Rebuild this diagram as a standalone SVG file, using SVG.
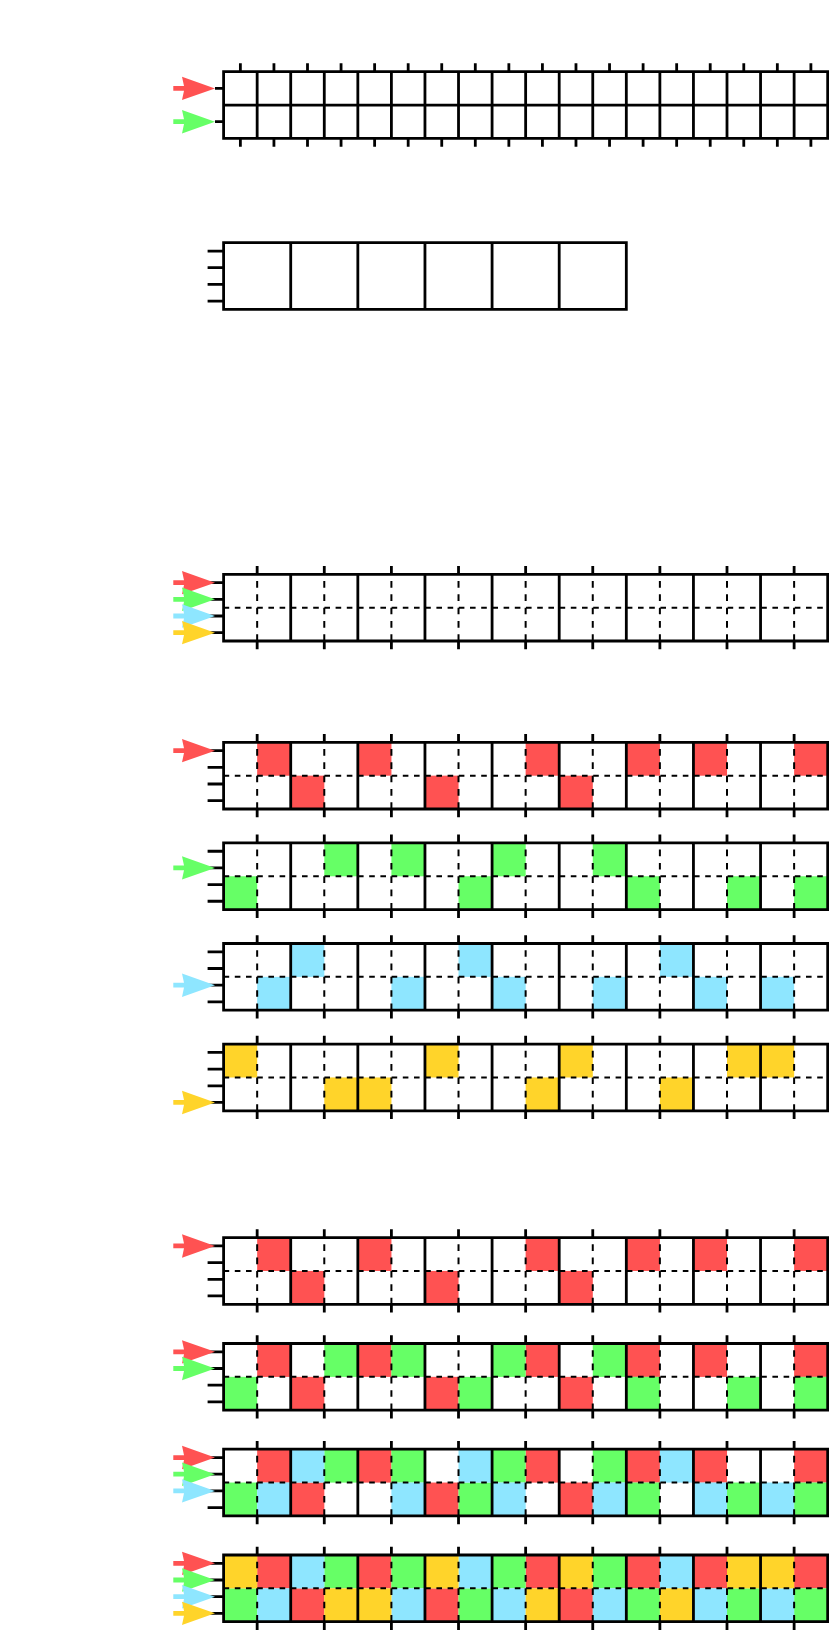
<svg xmlns="http://www.w3.org/2000/svg" xmlns:xlink="http://www.w3.org/1999/xlink" width="829" height="1630" viewBox="0 0 829 1630">
<style>
.ln{fill:none;stroke:#000;stroke-width:2.8}
.dh{fill:none;stroke:#000;stroke-width:2;stroke-dasharray:5.6 5.6}
.dv{fill:none;stroke:#000;stroke-width:2;stroke-dasharray:6.67 6.67;stroke-dashoffset:6.67}
.r{fill:#FF5252}
.g{fill:#66FF66}
.b{fill:#8EE6FF}
.y{fill:#FFD42A}
</style>
<defs>
<path id="arr" d="M-41.7,-2.4H-31L-33,-11.7L0,0L-33,11.7L-31,2.4H-41.7Z"/>
<g id="dgrid">
<path class="dh" d="M0,33.35H604.08"/>
<path class="dv" d="M33.56,0V66.7M100.68,0V66.7M167.8,0V66.7M234.92,0V66.7M302.04,0V66.7M369.16,0V66.7M436.28,0V66.7M503.4,0V66.7M570.52,0V66.7"/>
<path class="ln" d="M0,0H604.08V66.7H0ZM67.12,0V66.7M134.24,0V66.7M201.36,0V66.7M268.48,0V66.7M335.6,0V66.7M402.72,0V66.7M469.84,0V66.7M536.96,0V66.7"/>
<path class="ln" d="M33.56,-8.3V0M100.68,-8.3V0M167.8,-8.3V0M234.92,-8.3V0M302.04,-8.3V0M369.16,-8.3V0M436.28,-8.3V0M503.4,-8.3V0M570.52,-8.3V0M33.56,66.7V75M100.68,66.7V75M167.8,66.7V75M234.92,66.7V75M302.04,66.7V75M369.16,66.7V75M436.28,66.7V75M503.4,66.7V75M570.52,66.7V75"/>
<path class="ln" d="M-16,8.35H0M-16,25H0M-16,41.7H0M-16,58.35H0"/>
</g>
<g id="pR" class="r">
<rect x="33.56" y="0" width="33.6" height="33.4"/><rect x="134.24" y="0" width="33.6" height="33.4"/><rect x="302.04" y="0" width="33.6" height="33.4"/><rect x="402.72" y="0" width="33.6" height="33.4"/><rect x="469.84" y="0" width="33.6" height="33.4"/><rect x="570.52" y="0" width="33.6" height="33.4"/>
<rect x="67.12" y="33.35" width="33.6" height="33.35"/><rect x="201.36" y="33.35" width="33.6" height="33.35"/><rect x="335.6" y="33.35" width="33.6" height="33.35"/>
</g>
<g id="pG" class="g">
<rect x="100.68" y="0" width="33.6" height="33.4"/><rect x="167.8" y="0" width="33.6" height="33.4"/><rect x="268.48" y="0" width="33.6" height="33.4"/><rect x="369.16" y="0" width="33.6" height="33.4"/>
<rect x="0" y="33.35" width="33.6" height="33.35"/><rect x="234.92" y="33.35" width="33.6" height="33.35"/><rect x="402.72" y="33.35" width="33.6" height="33.35"/><rect x="503.4" y="33.35" width="33.6" height="33.35"/><rect x="570.52" y="33.35" width="33.6" height="33.35"/>
</g>
<g id="pB" class="b">
<rect x="67.12" y="0" width="33.6" height="33.4"/><rect x="234.92" y="0" width="33.6" height="33.4"/><rect x="436.28" y="0" width="33.6" height="33.4"/>
<rect x="33.56" y="33.35" width="33.6" height="33.35"/><rect x="167.8" y="33.35" width="33.6" height="33.35"/><rect x="268.48" y="33.35" width="33.6" height="33.35"/><rect x="369.16" y="33.35" width="33.6" height="33.35"/><rect x="469.84" y="33.35" width="33.6" height="33.35"/><rect x="536.96" y="33.35" width="33.6" height="33.35"/>
</g>
<g id="pY" class="y">
<rect x="0" y="0" width="33.6" height="33.4"/><rect x="201.36" y="0" width="33.6" height="33.4"/><rect x="335.6" y="0" width="33.6" height="33.4"/><rect x="503.4" y="0" width="33.6" height="33.4"/><rect x="536.96" y="0" width="33.6" height="33.4"/>
<rect x="100.68" y="33.35" width="33.6" height="33.35"/><rect x="134.24" y="33.35" width="33.6" height="33.35"/><rect x="302.04" y="33.35" width="33.6" height="33.35"/><rect x="436.28" y="33.35" width="33.6" height="33.35"/>
</g>
</defs>
<rect width="829" height="1630" fill="#fff"/>

<g id="grid-top" transform="translate(223.6,71.7)">
<path class="ln" d="M0,0H604.08V66.7H0ZM0,33.35H604.08M33.56,0V66.7M67.12,0V66.7M100.68,0V66.7M134.24,0V66.7M167.8,0V66.7M201.36,0V66.7M234.92,0V66.7M268.48,0V66.7M302.04,0V66.7M335.6,0V66.7M369.16,0V66.7M402.72,0V66.7M436.28,0V66.7M469.84,0V66.7M503.4,0V66.7M536.96,0V66.7M570.52,0V66.7"/>
<path class="ln" d="M16.78,-8.4V0M50.34,-8.4V0M83.9,-8.4V0M117.46,-8.4V0M151.02,-8.4V0M184.58,-8.4V0M218.14,-8.4V0M251.7,-8.4V0M285.26,-8.4V0M318.82,-8.4V0M352.38,-8.4V0M385.94,-8.4V0M419.5,-8.4V0M453.06,-8.4V0M486.62,-8.4V0M520.18,-8.4V0M553.74,-8.4V0M587.3,-8.4V0M16.78,66.7V75.1M50.34,66.7V75.1M83.9,66.7V75.1M117.46,66.7V75.1M151.02,66.7V75.1M184.58,66.7V75.1M218.14,66.7V75.1M251.7,66.7V75.1M285.26,66.7V75.1M318.82,66.7V75.1M352.38,66.7V75.1M385.94,66.7V75.1M419.5,66.7V75.1M453.06,66.7V75.1M486.62,66.7V75.1M520.18,66.7V75.1M553.74,66.7V75.1M587.3,66.7V75.1"/>
<path class="ln" d="M-8.6,16.7H0M-8.6,50H0"/>
</g>

<g id="grid-blocks" transform="translate(223.6,242.7)">
<path class="ln" d="M0,0H402.72V66.7H0ZM67.12,0V66.7M134.24,0V66.7M201.36,0V66.7M268.48,0V66.7M335.6,0V66.7"/>
<path class="ln" d="M-16,8.35H0M-16,25H0M-16,41.7H0M-16,58.35H0"/>
</g>

<g id="grid-empty" transform="translate(223.6,574.3)"><use xlink:href="#dgrid"/></g>

<g id="row-red" transform="translate(223.6,742.3)"><use xlink:href="#pR"/><use xlink:href="#dgrid"/></g>
<g id="row-green" transform="translate(223.6,842.9)"><use xlink:href="#pG"/><use xlink:href="#dgrid"/></g>
<g id="row-blue" transform="translate(223.6,943.5)"><use xlink:href="#pB"/><use xlink:href="#dgrid"/></g>
<g id="row-yellow" transform="translate(223.6,1044.1)"><use xlink:href="#pY"/><use xlink:href="#dgrid"/></g>

<g id="comb-1" transform="translate(223.6,1237.6)"><use xlink:href="#pR"/><use xlink:href="#dgrid"/></g>
<g id="comb-2" transform="translate(223.6,1343.5)"><use xlink:href="#pR"/><use xlink:href="#pG"/><use xlink:href="#dgrid"/></g>
<g id="comb-3" transform="translate(223.6,1449.2)"><use xlink:href="#pR"/><use xlink:href="#pG"/><use xlink:href="#pB"/><use xlink:href="#dgrid"/></g>
<g id="comb-4" transform="translate(223.6,1555)"><use xlink:href="#pR"/><use xlink:href="#pG"/><use xlink:href="#pB"/><use xlink:href="#pY"/><use xlink:href="#dgrid"/></g>

<g id="connectors">
<use xlink:href="#arr" class="r" x="215" y="88.4"/>
<use xlink:href="#arr" class="g" x="215" y="121.7"/>

<use xlink:href="#arr" class="r" x="215" y="582.65"/>
<use xlink:href="#arr" class="g" x="215" y="599.3"/>
<use xlink:href="#arr" class="b" x="215" y="616"/>
<use xlink:href="#arr" class="y" x="215" y="632.65"/>

<use xlink:href="#arr" class="r" x="215" y="750.65"/>
<use xlink:href="#arr" class="g" x="215" y="867.9"/>
<use xlink:href="#arr" class="b" x="215" y="985.2"/>
<use xlink:href="#arr" class="y" x="215" y="1102.45"/>

<use xlink:href="#arr" class="r" x="215" y="1245.95"/>

<use xlink:href="#arr" class="r" x="215" y="1351.85"/>
<use xlink:href="#arr" class="g" x="215" y="1368.5"/>

<use xlink:href="#arr" class="r" x="215" y="1457.55"/>
<use xlink:href="#arr" class="g" x="215" y="1474.2"/>
<use xlink:href="#arr" class="b" x="215" y="1490.9"/>

<use xlink:href="#arr" class="r" x="215" y="1563.35"/>
<use xlink:href="#arr" class="g" x="215" y="1580"/>
<use xlink:href="#arr" class="b" x="215" y="1596.7"/>
<use xlink:href="#arr" class="y" x="215" y="1613.35"/>
</g>
</svg>
